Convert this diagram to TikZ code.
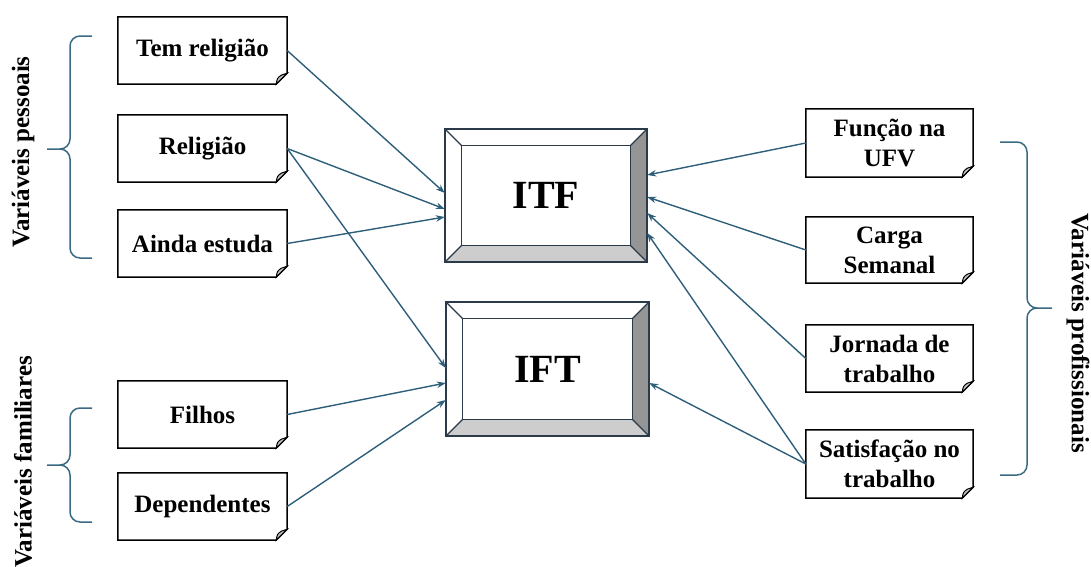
\documentclass[tikz,border=0pt]{standalone}
\usepackage{fontspec}
\setmainfont{Liberation Serif}
\usetikzlibrary{arrows.meta,calc}
\definecolor{arrowc}{HTML}{2E5F7A}
\definecolor{bracec}{HTML}{3A6B82}
\definecolor{framec}{HTML}{2B3A48}
\definecolor{darkbevel}{HTML}{959595}
\definecolor{lightbevel}{HTML}{CDCDCD}
\tikzset{
  notebox/.style={minimum width=169pt,minimum height=67pt,inner sep=0pt,align=center,
    font=\fontsize{25}{30}\selectfont\bfseries},
  rnotebox/.style={notebox,minimum width=167pt},
  bevelbox/.style={inner sep=0pt,font=\fontsize{40}{44}\selectfont\bfseries},
  conn/.style={draw=arrowc,line width=1.4pt,-{Stealth[length=9pt,width=6.5pt]}},
  bracestyle/.style={draw=bracec,line width=1.5pt},
  sidelabel/.style={font=\fontsize{25}{30}\selectfont\bfseries,inner sep=0pt},
  boxline/.style={draw=black,line width=1.5pt}
}
\newcommand\foldbox[1]{%
  \draw[boxline,fill=white] (#1.north west) -- (#1.north east) -- ([yshift=11pt]#1.south east)
     -- ([xshift=-11pt]#1.south east) -- (#1.south west) -- cycle;
  \filldraw[draw=black,line width=1pt,fill=black!25] ([xshift=-11pt]#1.south east)
     .. controls ([xshift=-10pt,yshift=6pt]#1.south east) .. ([xshift=-6pt,yshift=9pt]#1.south east)
     -- ([yshift=11pt]#1.south east) -- cycle;}
\newcommand\bevel[1]{%
  \fill[white] (#1.north west) rectangle (#1.south east);
  \fill[darkbevel] (#1.north east) -- (#1.south east) -- ([xshift=-17pt,yshift=17pt]#1.south east) -- ([xshift=-17pt,yshift=-17pt]#1.north east) -- cycle;
  \fill[lightbevel] (#1.south west) -- (#1.south east) -- ([xshift=-17pt,yshift=17pt]#1.south east) -- ([xshift=17pt,yshift=17pt]#1.south west) -- cycle;
  \draw[draw=framec,line width=1.5pt] (#1.north west) rectangle (#1.south east);
  \draw[draw=framec,line width=1.3pt] ([xshift=17pt,yshift=-17pt]#1.north west) rectangle ([xshift=-17pt,yshift=17pt]#1.south east);
  \draw[draw=framec,line width=1.3pt] (#1.north west) -- ([xshift=17pt,yshift=-17pt]#1.north west)
    (#1.north east) -- ([xshift=-17pt,yshift=-17pt]#1.north east)
    (#1.south east) -- ([xshift=-17pt,yshift=17pt]#1.south east)
    (#1.south west) -- ([xshift=17pt,yshift=17pt]#1.south west);}
\begin{document}
\begin{tikzpicture}[x=1pt,y=-1pt]
\useasboundingbox (0,0) rectangle (1091,566);
% left boxes
\node[notebox] (tem) at (202.5,50.5) {};
\node[notebox] (rel) at (202.5,148.5) {};
\node[notebox] (ainda) at (202.5,243.5) {};
\node[notebox] (filhos) at (202.5,414.5) {};
\node[notebox] (dep) at (202.5,506.5) {};
% right boxes
\node[rnotebox,minimum height=68pt] (func) at (889.5,143) {};
\node[rnotebox,minimum height=66pt] (carga) at (889.5,250) {};
\node[rnotebox] (jorn) at (889.5,358.5) {};
\node[rnotebox,minimum height=68pt] (sat) at (889.5,464) {};
\foreach \n in {tem,rel,ainda,filhos,dep,func,carga,jorn,sat}{\foldbox{\n}}
\foreach \n/\t in {tem/Tem religião,rel/Religião,ainda/Ainda estuda,filhos/Filhos,dep/Dependentes}{
  \node[notebox] at (\n) {\t};}
\node[rnotebox] at (func) {Função na\\UFV};
\node[rnotebox] at (carga) {Carga\\Semanal};
\node[rnotebox] at (jorn) {Jornada de\\trabalho};
\node[rnotebox] at (sat) {Satisfação no\\trabalho};
% central boxes
\node[bevelbox,minimum width=202pt,minimum height=133pt] (itf) at (546,195.5) {};
\node[bevelbox,minimum width=203pt,minimum height=134pt] (ift) at (547.5,369) {};
\bevel{itf}\bevel{ift}
\node[bevelbox] at (itf) {ITF};
\node[bevelbox] at (ift) {IFT};
% connectors
\draw[conn] (tem.east) -- ([yshift=2.5pt]itf.west);
\draw[conn] (rel.east) -- ([yshift=-13.5pt]itf.west);
\draw[conn] (rel.east) -- ([yshift=1pt]ift.west);
\draw[conn] (ainda.east) -- ([yshift=-21.5pt]itf.west);
\draw[conn] (filhos.east) -- ([yshift=-14pt]ift.west);
\draw[conn] (dep.east) -- ([yshift=-31pt]ift.west);
\draw[conn] (func.west) -- ([yshift=20.5pt]itf.east);
\draw[conn] (carga.west) -- ([yshift=-1.5pt]itf.east);
\draw[conn] (jorn.west) -- ([yshift=-17.5pt]itf.east);
\draw[conn] (sat.west) -- ([yshift=-37.5pt]itf.east);
\draw[conn] (sat.west) -- ([yshift=-14pt]ift.east);
% braces
\draw[bracestyle] (92,36) -- (80,36) to[out=180,in=90] (70,46) -- (70,139) to[out=-90,in=0] (60,149) -- (47,149);
\draw[bracestyle] (92,258) -- (80,258) to[out=180,in=-90] (70,248) -- (70,159) to[out=90,in=0] (60,149);
\draw[bracestyle] (92,408) -- (80,408) to[out=180,in=90] (70,418) -- (70,455) to[out=-90,in=0] (60,465) -- (47,465);
\draw[bracestyle] (92,522) -- (80,522) to[out=180,in=-90] (70,512) -- (70,475) to[out=90,in=0] (60,465);
\draw[bracestyle] (1000,142) -- (1017,142) to[out=0,in=90] (1027,152) -- (1027,298) to[out=-90,in=180] (1037,308) -- (1052,308);
\draw[bracestyle] (1000,475) -- (1017,475) to[out=0,in=-90] (1027,465) -- (1027,318) to[out=90,in=180] (1037,308);
% side labels
\node[sidelabel,rotate=90] (lp) at (23,152) {Variáveis pessoais};
\node[sidelabel,rotate=90] (lf) at (23,462) {Variáveis familiares};
\node[sidelabel,rotate=-90] (lprof) at (1078,333) {Variáveis profissionais};
\end{tikzpicture}
\end{document}
